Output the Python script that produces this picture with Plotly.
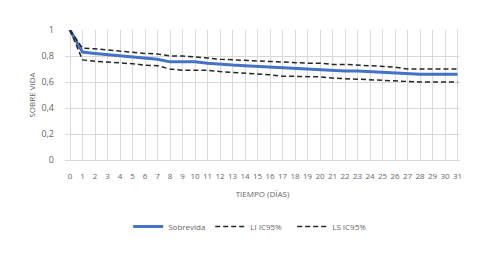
import plotly.graph_objects as go

dias = list(range(0, 32))
sobrevida = [1.00, 0.83, 0.82, 0.81, 0.80, 0.79, 0.78, 0.775, 0.755, 0.755, 0.755, 0.745, 0.735,
             0.73, 0.725, 0.72, 0.71, 0.705, 0.70, 0.70, 0.695, 0.69, 0.685, 0.685, 0.68, 0.675,
             0.67, 0.66, 0.66, 0.66, 0.66, 0.66]
li_ic95 = [1.00, 0.77, 0.76, 0.755, 0.75, 0.74, 0.73, 0.725, 0.70, 0.69, 0.69, 0.69, 0.68,
           0.675, 0.665, 0.66, 0.655, 0.645, 0.645, 0.645, 0.64, 0.63, 0.625, 0.62, 0.62, 0.615,
           0.61, 0.60, 0.60, 0.60, 0.60, 0.60]
ls_ic95 = [1.00, 0.86, 0.855, 0.845, 0.84, 0.83, 0.82, 0.815, 0.80, 0.80, 0.795, 0.785, 0.775,
           0.77, 0.765, 0.76, 0.755, 0.75, 0.745, 0.745, 0.745, 0.735, 0.735, 0.73, 0.725, 0.72,
           0.715, 0.70, 0.70, 0.70, 0.70, 0.70]
y_ticks = [0, 0.2, 0.4, 0.6, 0.8, 1]
y_labels = ["0", "0,2", "0,4", "0,6", "0,8", "1"]

fig = go.Figure()
fig.add_trace(go.Scatter(x=dias, y=sobrevida, mode="lines", name="Sobrevida",
                         line=dict(color="#4472C4", width=3)))
fig.add_trace(go.Scatter(x=dias, y=li_ic95, mode="lines", name="LI IC95%",
                         line=dict(color="#262626", width=1.5, dash="5px,3px")))
fig.add_trace(go.Scatter(x=dias, y=ls_ic95, mode="lines", name="LS IC95%",
                         line=dict(color="#262626", width=1.5, dash="5px,3px")))

fig.update_layout(
    width=487, height=260,
    margin=dict(l=57, r=35, t=22, b=108, autoexpand=False),
    paper_bgcolor="white", plot_bgcolor="white",
    font=dict(family="Open Sans, Arial, sans-serif", size=8, color="#666666"),
    showlegend=True,
    legend=dict(orientation="h", x=0.16, xanchor="left", y=-0.40, yanchor="top",
                font=dict(size=8, color="#666666"), entrywidth=37, itemwidth=30),
)
fig.update_xaxes(range=[-0.4, 31.2], tickmode="array", tickvals=dias,
                 ticktext=[str(d) for d in dias], showgrid=True, gridcolor="#D9D9D9",
                 gridwidth=1, zeroline=False, showline=True, linecolor="#D9D9D9",
                 ticks="", ticklabelstandoff=8, tickfont=dict(size=8, color="#666666"),
                 title=dict(text="TIEMPO (DÍAS)", font=dict(size=8, color="#666666"), standoff=11))
fig.update_yaxes(range=[0, 1], tickmode="array", tickvals=y_ticks, ticktext=y_labels,
                 showgrid=True, gridcolor="#D9D9D9", gridwidth=1, zeroline=False,
                 ticks="", ticklabelstandoff=10, tickfont=dict(size=9, color="#666666"),
                 title=dict(text="SOBRE VIDA", font=dict(size=8, color="#666666"), standoff=4))

fig.write_html("out.html")
